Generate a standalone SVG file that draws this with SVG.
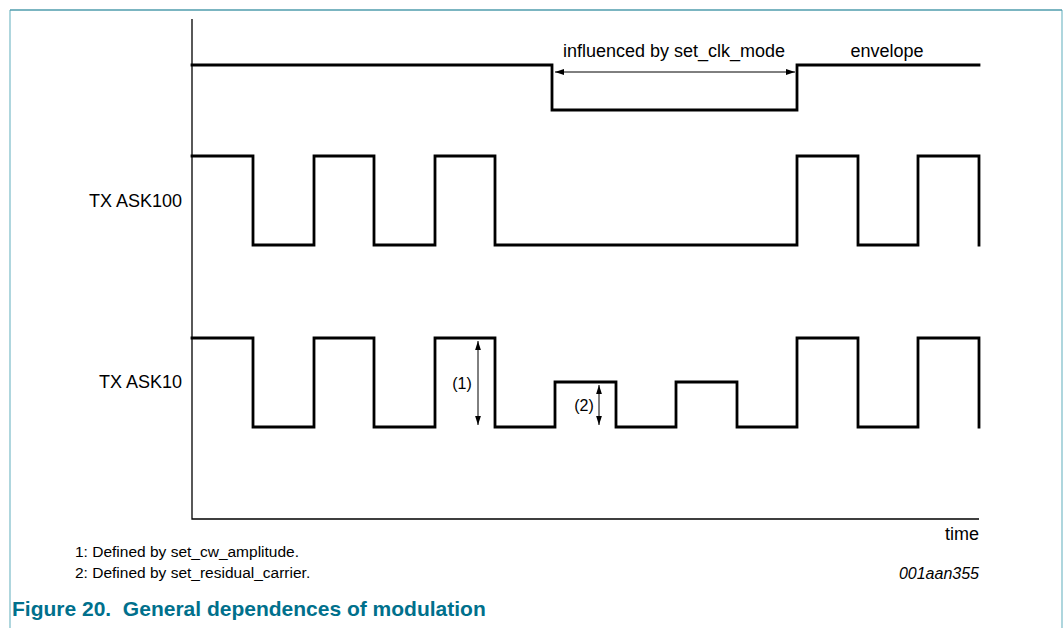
<svg xmlns="http://www.w3.org/2000/svg" width="1064" height="628" viewBox="0 0 1064 628">
<style>
.frame{fill:none;stroke:#84c0cc;stroke-width:1.3}
.frametop{fill:none;stroke:#4f9cad;stroke-width:1.3}
.axis{fill:none;stroke:#000;stroke-width:1.3}
.sig{fill:none;stroke:#000;stroke-width:2.8;stroke-linejoin:miter;stroke-linecap:square}
.dim{fill:none;stroke:#000;stroke-width:1}
.lbl{font-family:"Liberation Sans",Arial,sans-serif;font-size:18px;fill:#000}
.mid{font-family:"Liberation Sans",Arial,sans-serif;font-size:16px;fill:#000}
.sm{font-family:"Liberation Sans",Arial,sans-serif;font-size:15.5px;fill:#000}
.cap{font-family:"Liberation Sans",Arial,sans-serif;font-size:21px;font-weight:bold;fill:#00708c}
</style>
<defs>
<marker id="ah" viewBox="0 0 10 10" refX="10" refY="5" markerWidth="9" markerHeight="9" markerUnits="userSpaceOnUse" orient="auto-start-reverse">
<path d="M0,1.8 L10,5 L0,8.2 Z" fill="#000"/>
</marker>
</defs>
<rect width="1064" height="628" fill="#fff"/>
<path class="frame" d="M10,628 V10 M1062,10 V628"/>
<path class="frametop" d="M10,10 H1062"/>
<g id="axes">
<path class="axis" d="M192,19 V519 H979"/>
<text class="lbl" x="979" y="540" text-anchor="end">time</text>
</g>
<g id="envelope">
<path class="sig" d="M192,65 H552 V110 H797 V65 H979"/>
<text class="lbl" x="887" y="57" text-anchor="middle">envelope</text>
</g>
<g id="tx-ask100">
<path class="sig" d="M192,156 H253 V245 H314 V156 H374 V245 H435 V156 H495 V245 H797 V156 H858 V245 H918 V156 H979 V245"/>
<text class="lbl" x="182" y="207" text-anchor="end">TX ASK100</text>
</g>
<g id="tx-ask10">
<path class="sig" d="M192,338 H253 V427 H314 V338 H374 V427 H435 V338 H495 V427 H555 V382 H616 V427 H676 V382 H737 V427 H797 V338 H858 V427 H918 V338 H979 V427"/>
<text class="lbl" x="182" y="388" text-anchor="end">TX ASK10</text>
</g>
<g id="connectors">
<line class="dim" x1="555" y1="72" x2="795" y2="72" marker-start="url(#ah)" marker-end="url(#ah)"/>
<line class="dim" x1="478" y1="341" x2="478" y2="425" marker-start="url(#ah)" marker-end="url(#ah)"/>
<line class="dim" x1="599" y1="385" x2="599" y2="425" marker-start="url(#ah)" marker-end="url(#ah)"/>
</g>
<g id="labels">
<text class="lbl" x="674" y="57" text-anchor="middle">influenced by set_clk_mode</text>
<text class="mid" x="462" y="389" text-anchor="middle">(1)</text>
<text class="mid" x="584" y="411" text-anchor="middle">(2)</text>
</g>
<g id="notes">
<text class="sm" x="75" y="557">1: Defined by set_cw_amplitude.</text>
<text class="sm" x="75" y="578">2: Defined by set_residual_carrier.</text>
<text class="mid" x="979" y="579" text-anchor="end" font-style="italic">001aan355</text>
<text class="cap" x="12" y="616">Figure 20.&#160; General dependences of modulation</text>
</g>
</svg>
